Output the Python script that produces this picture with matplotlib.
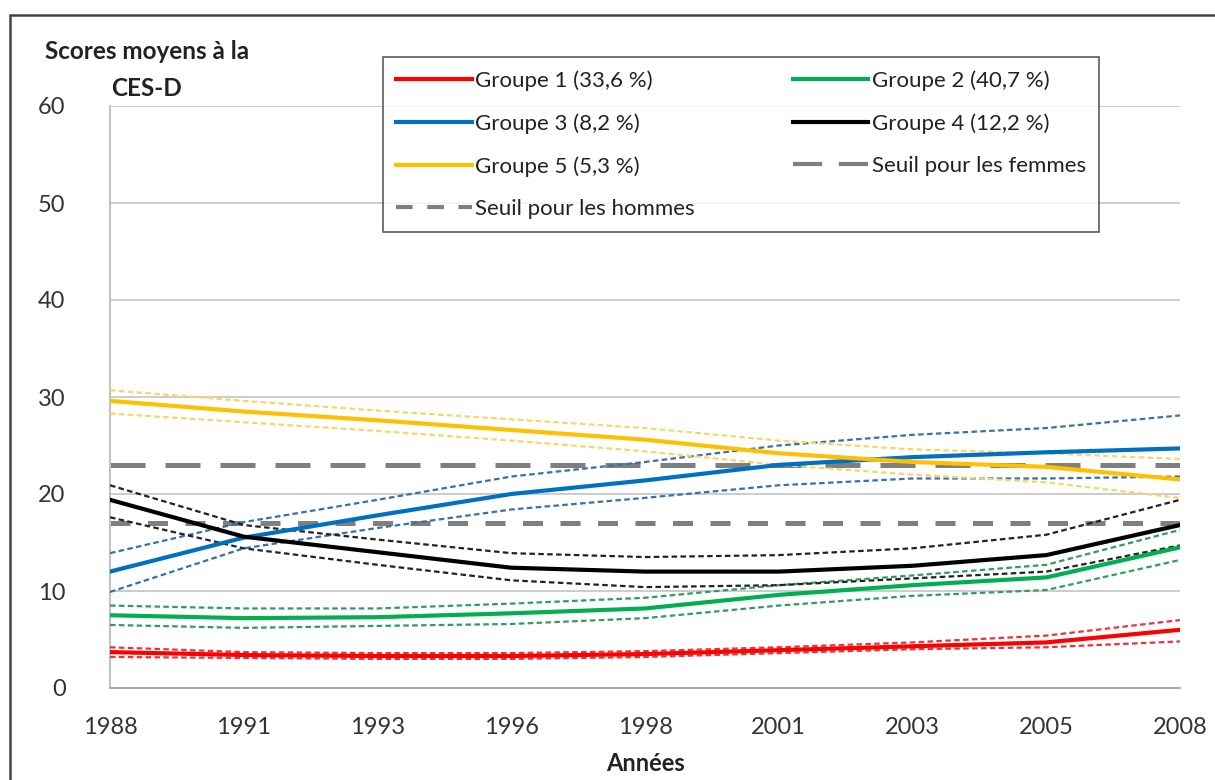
import numpy as np
import matplotlib
matplotlib.use('Agg')
import matplotlib.pyplot as plt
import matplotlib.patches as patches
from matplotlib.lines import Line2D

plt.rcParams['font.family'] = ['Lato', 'DejaVu Sans']

# Data
years = ['1988', '1991', '1993', '1996', '1998', '2001', '2003', '2005', '2008']

g1 = [3.7, 3.4, 3.3, 3.3, 3.5, 3.9, 4.3, 4.7, 6.0]
g1_hi = [4.2, 3.7, 3.6, 3.6, 3.8, 4.2, 4.7, 5.4, 7.0]
g1_lo = [3.2, 3.1, 3.0, 3.0, 3.2, 3.6, 4.0, 4.2, 4.8]

g2 = [7.5, 7.2, 7.3, 7.7, 8.2, 9.6, 10.6, 11.4, 14.5]
g2_hi = [8.5, 8.2, 8.2, 8.7, 9.3, 10.6, 11.6, 12.7, 16.3]
g2_lo = [6.5, 6.2, 6.4, 6.6, 7.2, 8.5, 9.5, 10.1, 13.2]

g3 = [12.0, 15.5, 17.8, 20.0, 21.4, 23.0, 23.8, 24.3, 24.7]
g3_hi = [13.9, 17.1, 19.4, 21.8, 23.3, 25.0, 26.1, 26.8, 28.1]
g3_lo = [9.9, 14.4, 16.5, 18.4, 19.6, 20.9, 21.6, 21.6, 21.8]

g4 = [19.4, 15.6, 14.0, 12.4, 12.0, 12.0, 12.6, 13.7, 16.8]
g4_hi = [20.9, 16.8, 15.3, 13.9, 13.5, 13.7, 14.4, 15.8, 19.4]
g4_lo = [17.6, 14.4, 12.7, 11.1, 10.4, 10.6, 11.3, 12.0, 14.7]

g5 = [29.6, 28.5, 27.6, 26.6, 25.6, 24.2, 23.3, 22.8, 21.5]
g5_hi = [30.7, 29.6, 28.6, 27.7, 26.8, 25.5, 24.6, 24.2, 23.6]
g5_lo = [28.3, 27.4, 26.5, 25.5, 24.4, 23.0, 22.0, 21.2, 19.6]

seuil_femmes = 23
seuil_hommes = 17

labels = ['Groupe 1 (33,6 %)', 'Groupe 2 (40,7 %)', 'Groupe 3 (8,2 %)',
          'Groupe 4 (12,2 %)', 'Groupe 5 (5,3 %)']
colors = ['#FF0000', '#00B050', '#0070C0', '#000000', '#FFC000']
ci_colors = ['#E8343A', '#2E9E5E', '#3A6FA8', '#222222', '#F5D66B']

fig = plt.figure(figsize=(12.15, 7.8), dpi=100)
ax = fig.add_axes([110/1215, 1 - 688/780, 1070/1215, 582/780])

x = np.arange(len(years))
groups = [(g1, g1_hi, g1_lo), (g2, g2_hi, g2_lo), (g3, g3_hi, g3_lo),
          (g4, g4_hi, g4_lo), (g5, g5_hi, g5_lo)]

# thresholds
ax.axhline(seuil_femmes, color='#7F7F7F', lw=3.6, dashes=(7, 4), zorder=2)
ax.axhline(seuil_hommes, color='#7F7F7F', lw=3.6, dashes=(4, 3.5), zorder=2)

handles = []
for (m, hi, lo), c, cc, lab in zip(groups, colors, ci_colors, labels):
    ax.plot(x, hi, color=cc, lw=1.6, dashes=(2.5, 1.5), zorder=3)
    ax.plot(x, lo, color=cc, lw=1.6, dashes=(2.5, 1.5), zorder=3)
    h, = ax.plot(x, m, color=c, lw=3, zorder=4, label=lab)
    handles.append(h)

h_f = Line2D([], [], color='#7F7F7F', lw=3, dashes=(7, 4))
h_h = Line2D([], [], color='#7F7F7F', lw=3, dashes=(4, 3.5))

# order so that the legend reads row by row
leg_h = [handles[0], handles[2], handles[4], h_h, handles[1], handles[3], h_f]
leg_l = [labels[0], labels[2], labels[4], 'Seuil pour les hommes',
         labels[1], labels[3], 'Seuil pour les femmes']
leg = fig.legend(leg_h, leg_l, ncol=2, loc='upper left',
                 bbox_to_anchor=(383/1215, 1 - 57/780), borderaxespad=0,
                 fontsize=16, frameon=True, fancybox=False, edgecolor='#333333',
                 handlelength=3.4, handletextpad=0.15, columnspacing=4.4,
                 labelspacing=1.0, borderpad=0.6)
leg.get_frame().set_linewidth(1.2)
for t in leg.get_texts():
    t.set_color('#222222')

ax.set_xlim(0, len(years) - 1)
ax.set_ylim(0, 60)
ax.set_yticks(np.arange(0, 61, 10))
ax.set_xticks(x)
ax.set_xticklabels(years)
ax.tick_params(axis='both', labelsize=17, colors='#333333', length=0)
ax.tick_params(axis='x', pad=21)
ax.tick_params(axis='y', pad=32)
ax.grid(axis='y', color='#C8C8C8', lw=1.3)
ax.set_axisbelow(True)
for s in ['top', 'right']:
    ax.spines[s].set_visible(False)
ax.spines['left'].set_color('#BBBBBB')
ax.spines['bottom'].set_color('#AAAAAA')
ax.spines['left'].set_linewidth(1.3)
ax.spines['bottom'].set_linewidth(1.5)

ax.set_xlabel('Années', fontsize=17, fontweight='bold', color='#222222', labelpad=10)
fig.text(147/1215, 1 - 70/780, 'Scores moyens à la\nCES-D', ha='center', va='center',
         fontsize=17.5, fontweight='bold', color='#222222', linespacing=1.7)

# outer frame
fig.patches.append(patches.Rectangle((10/1215, -0.1), 1.2, 1 - 15/780 + 0.1,
                                     transform=fig.transFigure, fill=False,
                                     edgecolor='#444444', lw=1.8))

fig.savefig('out.png', dpi=100)
